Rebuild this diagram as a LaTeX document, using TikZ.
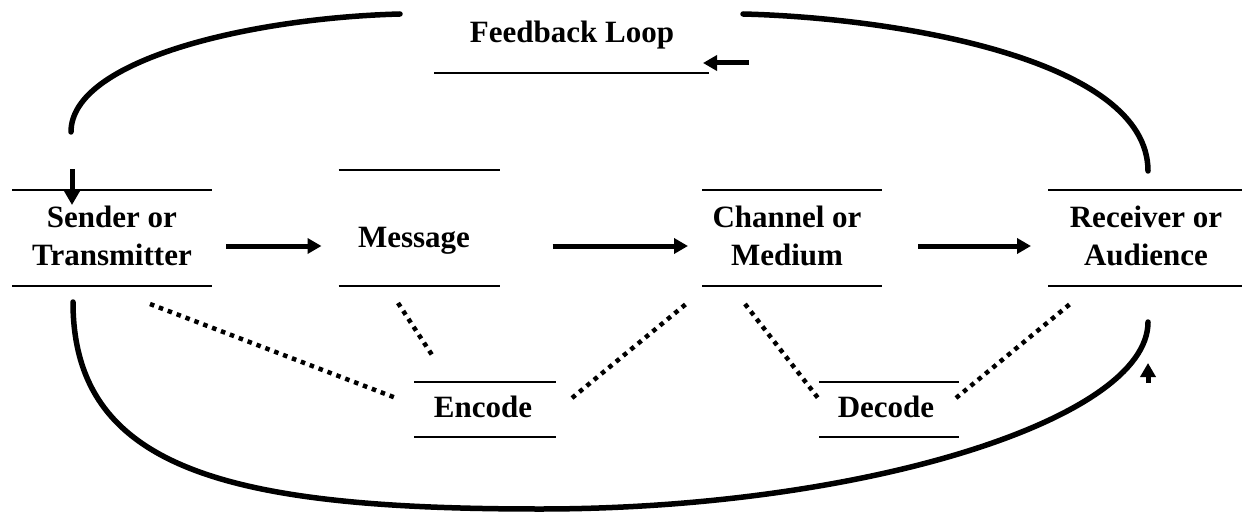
\documentclass[tikz,border=0pt]{standalone}
\usepackage{fontspec}
\setmainfont{Liberation Serif}
\usetikzlibrary{arrows.meta,calc}
\begin{document}
\begin{tikzpicture}[x=1pt,y=-1pt,
  frame/.style={draw=none,inner sep=0pt,outer sep=0pt},
  rule/.style={line width=2pt},
  loopline/.style={line width=5.5pt,line cap=round},
  arr/.style={line width=5pt,-{Triangle[length=14pt,width=15pt]}},
  dots/.style={line width=4.5pt,dash pattern=on 4.5pt off 5pt},
  lbl/.style={font=\bfseries\fontsize{31}{36}\selectfont,anchor=base,inner sep=0pt}]
\useasboundingbox (0,0) rectangle (1242,516);
% boxes (geometry of the rule pairs)
\node[frame,minimum width=200pt,minimum height=96pt] (sender) at (112,238) {};
\node[frame,minimum width=161pt,minimum height=116pt] (message) at (419,228) {};
\node[frame,minimum width=180pt,minimum height=96pt] (channel) at (792,238) {};
\node[frame,minimum width=194pt,minimum height=96pt] (receiver) at (1145,238) {};
\node[frame,minimum width=142pt,minimum height=55pt] (encode) at (485,409.5) {};
\node[frame,minimum width=140pt,minimum height=55pt] (decode) at (889,409.5) {};
\node[frame,minimum width=275pt,minimum height=60pt] (feedback) at (571.5,43) {};
\foreach \b in {sender,message,channel,receiver,encode,decode}{
  \draw[rule] (\b.north west) -- (\b.north east);
  \draw[rule] (\b.south west) -- (\b.south east);
}
\draw[rule] (feedback.south west) -- (feedback.south east);
% texts
\node[lbl] (sender1) at (112,227) {Sender or};
\node[lbl] (sender2) at (112,265) {Transmitter};
\node[lbl] (message1) at (414,247) {Message};
\node[lbl] (channel1) at (787,227) {Channel or};
\node[lbl] (channel2) at (787,265) {Medium};
\node[lbl] (receiver1) at (1146,227) {Receiver or};
\node[lbl] (receiver2) at (1146,265) {Audience};
\node[lbl] (encode1) at (483,417) {Encode};
\node[lbl] (decode1) at (886,417) {Decode};
\node[lbl] (feedback1) at (572,43) {Feedback Loop};
% main arrows
\draw[arr] ($(sender.east)+(14,8)$) -- ($(message.west)+(-17,18)$);
\draw[arr] ($(message.east)+(53,18)$) -- ($(channel.west)+(-14,8)$);
\draw[arr] ($(channel.east)+(36,8)$) -- ($(receiver.west)+(-17,8)$);
% feedback loop
\draw[loopline] ($(sender.north west)+(59,-58)$) .. controls (71,60) and (250,18) .. ($(feedback.north west)+(-34,1)$);
\draw[loopline] ($(feedback.north east)+(34,1)$) .. controls (900,18) and (1148,60) .. ($(receiver.north west)+(100,-19)$);
\draw[loopline] ($(sender.south west)+(61,16)$) .. controls (73,470) and (230,509) .. (540,509)
   .. controls (860,509) and (1148,420) .. ($(receiver.south west)+(100,36)$);
\draw[arr] ($(feedback.south east)+(40,-10)$) -- ($(feedback.south east)+(-6,-10)$);
\draw[arr] ($(sender.north west)+(60,-21)$) -- ($(sender.north west)+(60,15)$);
\draw[arr] ($(receiver.south west)+(100,97)$) -- ($(receiver.south west)+(100,77)$);
% dotted links
\draw[dots] ($(sender.south west)+(138,18)$) -- ($(encode.west)+(-18,-11.5)$);
\draw[dots] ($(message.south west)+(59.5,17)$) -- ($(encode.north west)+(20,-24)$);
\draw[dots] ($(encode.east)+(16,-11.5)$) -- ($(channel.south west)+(-16,18)$);
\draw[dots] ($(channel.south west)+(43,18)$) -- ($(decode.west)+(-1,-11.5)$);
\draw[dots] ($(decode.east)+(-3,-11.5)$) -- ($(receiver.south west)+(22,18)$);
\end{tikzpicture}
\end{document}
